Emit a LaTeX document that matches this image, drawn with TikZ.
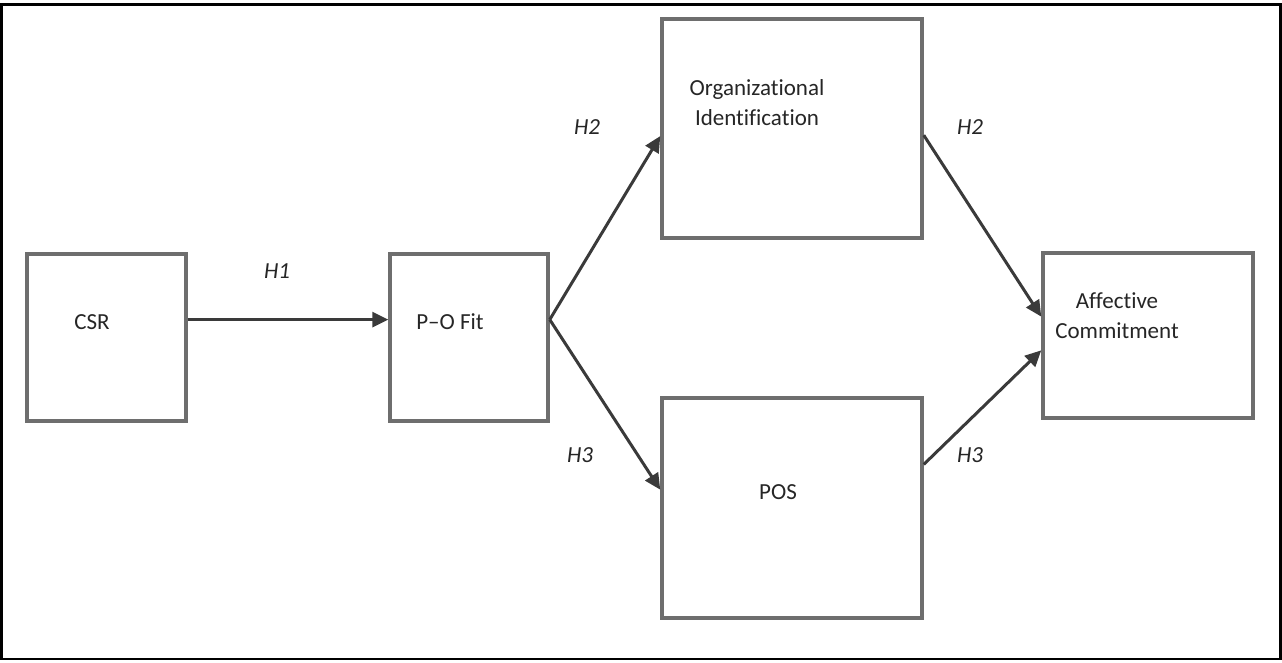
\documentclass[tikz,border=0pt]{standalone}
\usepackage{fontspec}
\setmainfont{Carlito}[Ligatures=NoCommon]
\usetikzlibrary{arrows.meta,calc}
\definecolor{boxgray}{HTML}{6E6E6E}
\definecolor{arrgray}{HTML}{3A3A3A}
\tikzset{
  boxnode/.style={draw=boxgray,line width=3.5pt,rectangle,inner sep=0pt,fill=white},
  txt/.style={font=\fontsize{23}{30}\selectfont,text=black!85,align=center,inner sep=0pt},
  hyp/.style={font=\fontsize{23}{30}\selectfont\itshape,text=black!85,inner sep=0pt},
  conn/.style={draw=arrgray,line width=3pt,-{Triangle[length=16pt,width=15pt]}}
}
\begin{document}
\begin{tikzpicture}[x=1pt,y=-1pt]
\useasboundingbox (0,0) rectangle (1282,662);
\draw[line width=2.5pt,black] (1.5,4.5) rectangle (1280.5,659);
% boxes
\node[boxnode,minimum width=159pt,minimum height=167pt] (csr) at (106.5,337.5) {};
\node[boxnode,minimum width=158pt,minimum height=167pt] (po) at (469,337.5) {};
\node[boxnode,minimum width=260pt,minimum height=219pt] (org) at (792,128.5) {};
\node[boxnode,minimum width=260pt,minimum height=220pt] (pos) at (792,508) {};
\node[boxnode,minimum width=210pt,minimum height=165pt] (aff) at (1148,335.5) {};
% texts
\node[txt] (csrt) at (92,322) {CSR};
\node[txt] (pot) at (450,322) {P–O Fit};
\node[txt,anchor=base] (orgt) at (757,125) {Organizational\\Identification};
\node[txt] (post) at (778,492) {POS};
\node[txt,anchor=base] (afft) at (1117,338) {Affective\\Commitment};
% hypothesis labels
\node[hyp] (h1) at (277,271) {H1};
\node[hyp] (h2a) at (587,127) {H2};
\node[hyp] (h2b) at (970,127) {H2};
\node[hyp] (h3a) at (580,455) {H3};
\node[hyp] (h3b) at (970,455) {H3};
% connector points
\coordinate (csrout) at ($(csr.north east)!0.395!(csr.south east)$);
\coordinate (poin) at ($(po.north west)!0.395!(po.south west)$);
\coordinate (poout) at ($(po.north east)!0.395!(po.south east)$);
\coordinate (orgin) at ($(org.north west)!0.534!(org.south west)$);
\coordinate (posin) at ($(pos.north west)!0.418!(pos.south west)$);
\coordinate (orgout) at ($(org.north east)!0.53!(org.south east)$);
\coordinate (posout) at ($(pos.north east)!0.305!(pos.south east)$);
\coordinate (affin1) at ($(aff.north west)!0.388!(aff.south west)$);
\coordinate (affin2) at ($(aff.north west)!0.588!(aff.south west)$);
% connectors
\draw[conn] (csrout) -- (poin);
\draw[conn] (poout) -- (orgin);
\draw[conn] (poout) -- (posin);
\draw[conn] (orgout) -- (affin1);
\draw[conn] (posout) -- (affin2);
\end{tikzpicture}
\end{document}
